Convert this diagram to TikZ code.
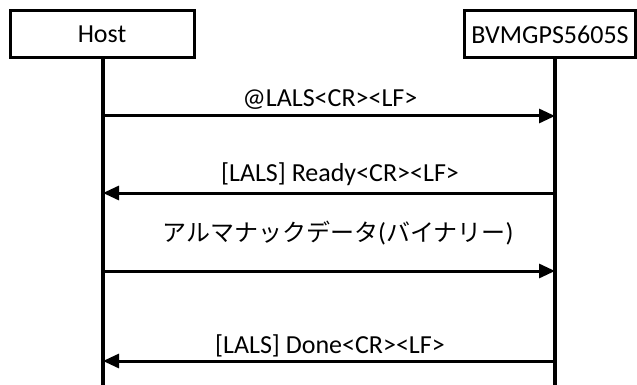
\documentclass[tikz,border=0pt]{standalone}
\usepackage{fontspec}
\setmainfont{Carlito}
\newfontfamily\jp{Noto Sans CJK JP}
\usetikzlibrary{arrows.meta}
\begin{document}
\begin{tikzpicture}[x=1pt,y=-1pt,
  actor/.style={draw=black, line width=3pt, fill=white, inner sep=0pt, font=\fontsize{26}{30}\selectfont},
  life/.style={line width=3.2pt},
  msg/.style={line width=3pt, -{Triangle[length=16pt,width=14pt]}},
  lbl/.style={midway, anchor=base, inner sep=0pt, font=\fontsize{26}{30}\selectfont}]
\useasboundingbox (0,0) rectangle (637,385);
\node[actor, minimum width=184pt, minimum height=47pt] (host) at (102,34.5) {Host};
\node[actor, minimum width=171pt, minimum height=47pt] (bvm) at (550,34.5) {BVMGPS5605S};
\coordinate (hb) at (103,385);
\coordinate (bt) at (555,58);
\coordinate (bb) at (555,385);
\draw[life] (host.south -| hb) -- (hb);
\draw[life] (bt) -- (bb);
\coordinate (h1) at (103,116); \coordinate (b1) at (555,116);
\coordinate (h2) at (103,193); \coordinate (b2) at (555,193);
\coordinate (h3) at (103,271); \coordinate (b3) at (555,271);
\coordinate (h4) at (103,361); \coordinate (b4) at (555,361);
\draw[msg] (h1) -- node[lbl, yshift=9pt, xshift=1pt] {@LALS<CR><LF>} (b1);
\draw[msg] (b2) -- node[lbl, yshift=11.5pt, xshift=11pt] {[LALS] Ready<CR><LF>} (h2);
\draw[msg] (h3) -- node[lbl, yshift=30pt, xshift=9pt] {{\jp\fontsize{24}{28}\selectfont アルマナックデータ}({\jp\fontsize{24}{28}\selectfont バイナリー})} (b3);
\draw[msg] (b4) -- node[lbl, yshift=8pt, xshift=1pt] {[LALS] Done<CR><LF>} (h4);
\end{tikzpicture}
\end{document}
